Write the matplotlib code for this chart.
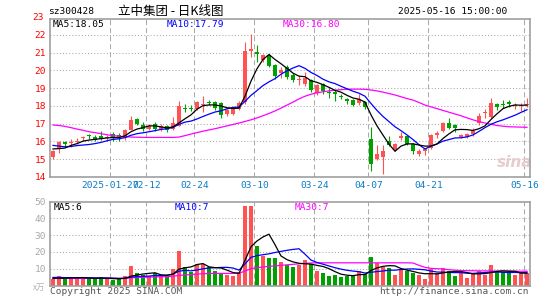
import matplotlib
matplotlib.use("Agg")
import matplotlib.pyplot as plt
import numpy as np

plt.rcParams["font.family"] = ["DejaVu Sans Mono"]

# header texts
code = "sz300428"
title = "立中集团 - 日K线图"
stamp = "2025-05-16 15:00:00"

# date labels on the x axis (candle index, label)
tick_pos = [10, 16, 24, 34, 44, 53, 63, 79]
tick_labels = ["2025-01-27", "02-12", "02-24", "03-10", "03-24", "04-07", "04-21", "05-16"]

# daily OHLC, 2025-01-13 .. 2025-05-16 (80 sessions)
open_ = [15.10, 15.60, 15.97, 15.90, 15.95, 16.20, 16.33, 16.27, 16.30, 16.22,
         16.40, 16.38, 16.18, 16.65, 17.25, 16.92, 16.68, 17.00, 16.68, 16.85,
         16.70, 16.90, 17.90, 17.88, 17.85, 18.05, 18.22, 18.22, 18.15, 17.55,
         17.56, 17.82, 18.20, 21.08, 21.02, 20.60, 20.88, 20.30, 19.85, 20.20,
         19.75, 19.45, 19.22, 19.45, 18.72, 19.22, 18.78, 18.78, 18.55, 18.38,
         18.32, 18.15, 18.20, 16.15, 15.00, 15.15, 16.05, 15.52, 16.17, 16.32,
         15.86, 15.30, 15.45, 15.65, 16.38, 16.60, 17.05, 16.95, 16.25, 16.25,
         16.42, 17.02, 17.58, 17.40, 18.12, 18.08, 18.20, 18.02, 18.03, 18.05]
high = [15.50, 16.02, 16.00, 16.12, 16.20, 16.30, 16.45, 16.37, 16.60, 16.35,
        16.55, 16.48, 16.70, 17.45, 17.30, 17.10, 17.00, 17.10, 17.00, 16.95,
        17.40, 18.30, 18.12, 18.05, 18.30, 18.55, 18.35, 18.30, 18.20, 17.82,
        17.95, 18.30, 21.60, 22.05, 21.45, 20.95, 20.95, 20.35, 20.20, 20.32,
        19.85, 19.70, 19.92, 19.50, 19.25, 19.30, 19.00, 18.90, 18.70, 18.45,
        18.40, 18.70, 18.30, 16.82, 15.80, 15.80, 16.30, 15.90, 16.55, 16.35,
        15.90, 15.55, 15.65, 16.40, 16.60, 17.10, 17.35, 17.00, 16.45, 16.48,
        16.75, 17.60, 17.85, 18.45, 18.15, 18.32, 18.35, 18.15, 18.17, 18.45]
low = [15.00, 15.38, 15.67, 15.71, 15.85, 16.05, 16.12, 16.00, 16.10, 16.05,
       16.05, 16.00, 16.10, 16.62, 16.92, 16.60, 16.65, 16.60, 16.60, 16.55,
       16.62, 16.85, 17.65, 17.70, 17.80, 17.65, 18.05, 17.75, 17.35, 17.45,
       17.50, 17.75, 18.10, 20.75, 20.50, 20.50, 20.20, 19.50, 19.55, 19.50,
       19.35, 19.20, 19.15, 18.80, 18.60, 18.70, 18.45, 18.28, 18.40, 18.10,
       18.00, 18.05, 17.85, 14.33, 14.95, 14.17, 15.75, 15.45, 16.10, 15.80,
       15.28, 15.20, 15.25, 15.60, 16.20, 16.55, 16.70, 16.55, 16.20, 16.20,
       16.30, 16.95, 17.30, 17.35, 17.75, 17.90, 17.95, 17.85, 17.70, 17.95]
close = [15.48, 15.98, 15.88, 15.95, 16.05, 16.23, 16.30, 16.10, 16.15, 16.28,
         16.28, 16.25, 16.65, 17.22, 16.97, 16.72, 16.90, 16.68, 16.85, 16.65,
         17.02, 18.00, 17.85, 17.82, 18.24, 18.12, 18.18, 17.90, 17.50, 17.75,
         17.88, 18.15, 21.10, 21.20, 20.95, 20.88, 20.25, 19.70, 20.05, 19.62,
         19.48, 19.50, 19.60, 18.90, 19.20, 18.82, 18.74, 18.68, 18.52, 18.30,
         18.05, 18.38, 17.95, 14.75, 15.27, 15.45, 15.80, 15.86, 16.33, 15.86,
         15.48, 15.46, 15.55, 16.35, 16.46, 17.02, 16.75, 16.78, 16.37, 16.42,
         16.58, 17.45, 17.65, 18.19, 17.93, 18.05, 18.10, 18.06, 18.07, 18.10]

# price moving averages as drawn
ma5 = [15.58, 15.60, 15.63, 15.78, 15.88, 16.02, 16.08, 16.12, 16.16, 16.20,
       16.22, 16.22, 16.32, 16.55, 16.70, 16.78, 16.88, 16.88, 16.82, 16.77,
       16.82, 17.05, 17.28, 17.50, 17.82, 18.02, 18.06, 18.06, 18.00, 17.90,
       17.86, 17.88, 18.55, 19.40, 20.10, 20.62, 20.90, 20.62, 20.38, 20.12,
       19.85, 19.68, 19.65, 19.42, 19.33, 19.20, 19.05, 18.88, 18.78, 18.60,
       18.45, 18.38, 18.22, 17.50, 16.88, 16.36, 15.85, 15.45, 15.74, 15.86,
       15.87, 15.80, 15.74, 15.74, 15.86, 16.17, 16.43, 16.66, 16.68, 16.67,
       16.62, 16.72, 16.88, 17.24, 17.56, 17.85, 17.98, 18.06, 18.04, 18.05]
ma10 = [15.78, 15.74, 15.70, 15.72, 15.77, 15.80, 15.83, 15.88, 15.95, 16.04,
        16.12, 16.15, 16.22, 16.35, 16.44, 16.49, 16.55, 16.61, 16.68, 16.72,
        16.79, 16.97, 17.09, 17.15, 17.27, 17.41, 17.54, 17.66, 17.73, 17.84,
        17.92, 17.94, 18.26, 18.60, 18.87, 19.15, 19.36, 19.54, 19.79, 19.98,
        20.14, 20.27, 20.12, 19.89, 19.72, 19.51, 19.36, 19.26, 19.11, 18.97,
        18.83, 18.72, 18.55, 18.14, 17.75, 17.41, 17.12, 16.83, 16.61, 16.37,
        16.11, 15.82, 15.58, 15.74, 15.86, 16.02, 16.11, 16.20, 16.21, 16.26,
        16.37, 16.57, 16.78, 16.97, 17.11, 17.22, 17.35, 17.48, 17.64, 17.79]
ma30 = [16.93, 16.90, 16.85, 16.78, 16.70, 16.63, 16.55, 16.50, 16.44, 16.38,
        16.33, 16.30, 16.27, 16.25, 16.24, 16.23, 16.23, 16.23, 16.23, 16.23,
        16.23, 16.25, 16.33, 16.42, 16.50, 16.58, 16.65, 16.72, 16.80, 16.88,
        16.96, 17.04, 17.13, 17.22, 17.33, 17.45, 17.58, 17.72, 17.88, 18.05,
        18.22, 18.40, 18.55, 18.66, 18.74, 18.80, 18.85, 18.89, 18.92, 18.94,
        18.95, 18.95, 18.94, 18.90, 18.85, 18.78, 18.70, 18.62, 18.52, 18.42,
        18.33, 18.20, 18.05, 17.95, 17.85, 17.75, 17.65, 17.55, 17.45, 17.33,
        17.22, 17.12, 17.04, 16.97, 16.90, 16.86, 16.83, 16.82, 16.81, 16.80]

# volume (10k lots) and its moving averages
volume = [3.8, 5.6, 4.8, 4.8, 4.2, 4.2, 4.2, 4.2, 5.2, 3.8,
          3.2, 3.6, 5.6, 11.6, 7.2, 6.2, 5.6, 7.2, 5.6, 5.6,
          9.8, 20.5, 11.2, 8.2, 12.7, 12.7, 10.8, 8.8, 7.2, 6.2,
          5.6, 8.2, 47.6, 47.6, 23.5, 17.6, 16.4, 16.4, 14.0, 12.5,
          11.0, 12.2, 15.1, 12.8, 8.8, 7.7, 5.8, 6.2, 5.2, 5.8,
          6.2, 8.8, 6.8, 17.1, 13.4, 11.0, 10.7, 6.2, 9.2, 8.6,
          7.2, 6.2, 3.8, 9.6, 7.6, 10.4, 8.6, 5.6, 9.2, 4.6,
          6.6, 8.8, 6.2, 12.2, 8.2, 8.2, 7.6, 6.2, 7.2, 7.2]
vma5 = [4.3, 4.3, 4.4, 4.5, 4.64, 4.72, 4.44, 4.32, 4.4, 4.32,
        4.12, 4.0, 4.28, 5.56, 6.24, 6.84, 7.24, 7.56, 6.36, 6.04,
        6.76, 9.74, 10.54, 11.06, 12.48, 13.06, 11.12, 10.64, 10.44, 9.14,
        7.72, 7.2, 14.96, 23.04, 26.5, 28.9, 30.54, 24.3, 17.58, 15.38,
        14.06, 13.22, 12.96, 12.72, 11.98, 11.32, 10.04, 8.26, 6.74, 6.14,
        5.84, 6.44, 6.56, 8.94, 10.46, 11.42, 11.8, 11.68, 10.1, 9.14,
        8.38, 7.48, 7.0, 7.08, 6.88, 7.52, 8.0, 8.36, 8.28, 7.68,
        6.92, 6.96, 7.08, 7.68, 8.4, 8.72, 8.48, 8.48, 7.48, 7.28]
vma10 = [4.8, 4.8, 4.7, 4.7, 4.6, 4.6, 4.6, 4.5, 4.5, 4.48,
         4.42, 4.22, 4.3, 4.98, 5.28, 5.48, 5.62, 5.92, 5.96, 6.14,
         6.8, 8.49, 9.05, 8.71, 9.26, 9.91, 10.43, 10.59, 10.75, 10.81,
         10.39, 9.16, 12.8, 16.74, 17.82, 18.31, 18.87, 19.63, 20.31, 20.94,
         21.48, 21.88, 18.63, 15.15, 13.68, 12.69, 11.63, 10.61, 9.73, 9.06,
         8.58, 8.24, 7.41, 7.84, 8.3, 8.63, 9.12, 9.12, 9.52, 9.8,
         9.9, 9.64, 9.34, 8.59, 8.01, 7.95, 7.74, 7.68, 7.68, 7.28,
         7.22, 7.48, 7.72, 7.98, 8.04, 7.82, 7.72, 7.78, 7.58, 7.84]
vma30 = [4.2, 4.2, 4.2, 4.2, 4.2, 4.2, 4.2, 4.2, 4.2, 4.2,
         4.2, 4.2, 4.3, 4.6, 4.8, 4.9, 5.0, 5.1, 5.2, 5.3,
         5.5, 6.0, 6.3, 6.5, 6.8, 7.0, 7.1, 7.2, 7.2, 7.2,
         7.2, 7.3, 8.6, 10.0, 10.6, 11.0, 11.4, 11.7, 12.0, 12.3,
         12.6, 12.9, 13.2, 13.4, 13.5, 13.5, 13.5, 13.5, 13.5, 13.5,
         13.5, 13.5, 13.5, 13.5, 13.5, 13.5, 13.5, 13.5, 13.5, 13.5,
         13.4, 12.0, 10.8, 10.2, 10.0, 9.8, 9.4, 9.1, 8.9, 8.8,
         8.8, 8.7, 8.7, 8.7, 8.6, 8.6, 8.6, 8.5, 8.5, 8.5]

UP, DOWN = "#ff5252", "#00a000"
GRID = "#aaaaaa"
DATE_BLUE = "#0a7cc6"
FS = 6.8

W, H = 545, 300
fig = plt.figure(figsize=(W / 100, H / 100), dpi=100)


def box(left, top, right, bottom):
    """Pixel box -> figure fraction rect."""
    return [left / W, 1 - bottom / H, (right - left) / W, (bottom - top) / H]


ax = fig.add_axes(box(50, 19, 530, 177))
axv = fig.add_axes(box(50, 201.5, 530, 285.5))

x = np.arange(len(close))
o = np.array(open_)
c = np.array(close)
up = c >= o
colors = np.where(up, UP, DOWN)
grid_x = np.array(tick_pos) - 0.42

for a in (ax, axv):
    a.set_xlim(-0.5, len(close) - 0.5)
    for s in a.spines.values():
        s.set_color("#a0a0a0")
        s.set_linewidth(1.2)
    for gx in grid_x:
        a.axvline(gx, color=GRID, lw=0.75, ls=(0, (4.8, 2.9)), zorder=0)

# --- price panel ---
ax.set_ylim(14, 22.9)
for lvl in range(15, 23):
    ax.axhline(lvl, color=GRID, lw=0.75, ls=(0, (1, 2)), zorder=0)

ax.vlines(x, low, high, colors=colors, lw=0.8, zorder=2)
body_lo = np.minimum(o, c)
body_h = np.maximum(np.abs(c - o), 0.04)
ax.bar(x, body_h, bottom=body_lo, width=0.76, color=colors, lw=0, zorder=3)

ax.plot(x, ma30, color="#ff00ff", lw=0.9, zorder=4)
ax.plot(x, ma10, color="#0000ff", lw=0.9, zorder=4)
ax.plot(x, ma5, color="black", lw=0.9, zorder=5)

ax.set_yticks(range(14, 23))
ax.set_yticklabels([str(v) for v in range(14, 23)])
ax.tick_params(axis="y", length=0, pad=3, labelsize=FS, labelcolor="red")
ax.set_xticks(grid_x)
ax.set_xticklabels(tick_labels)
ax.tick_params(axis="x", length=0, pad=3, labelsize=FS, labelcolor=DATE_BLUE)
ax.text(-0.012, 23, "23", transform=ax.get_yaxis_transform(), ha="right",
        va="center", color="red", fontsize=FS, clip_on=False)

ax.text(0.006, 0.965, f"MA5:{ma5[-1]:.2f}", transform=ax.transAxes,
        fontsize=FS, color="black", va="center")
ax.text(0.242, 0.965, f"MA10:{ma10[-1]:.2f}", transform=ax.transAxes,
        fontsize=FS, color="#0000ff", va="center")
ax.text(0.484, 0.965, f"MA30:{ma30[-1]:.2f}", transform=ax.transAxes,
        fontsize=FS, color="#ff00ff", va="center")
ax.text(77.0, 14.8, "sina", fontsize=11, style="italic", weight="bold",
        family="DejaVu Sans", color="#e6cccc", ha="center", va="center",
        zorder=1)

# --- volume panel ---
axv.set_ylim(0, 50)
for lvl in (10, 20, 30, 40):
    axv.axhline(lvl, color=GRID, lw=0.75, ls=(0, (1, 2)), zorder=0)
axv.bar(x, volume, width=0.8, color=colors, lw=0, zorder=2)
axv.plot(x, vma30, color="#ff00ff", lw=0.9, zorder=3)
axv.plot(x, vma10, color="#0000ff", lw=0.9, zorder=3)
axv.plot(x, vma5, color="black", lw=0.9, zorder=4)
axv.set_xticks([])
axv.set_yticks([10, 20, 30, 40, 50])
axv.tick_params(axis="y", length=0, pad=3, labelsize=FS, labelcolor="#a8a8a8")
axv.text(0.008, 0.93, "MA5:6", transform=axv.transAxes, fontsize=FS,
         color="black", va="center")
axv.text(0.26, 0.93, "MA10:7", transform=axv.transAxes, fontsize=FS,
         color="#0000ff", va="center")
axv.text(0.51, 0.93, "MA30:7", transform=axv.transAxes, fontsize=FS,
         color="#ff00ff", va="center")

# --- header and footer ---
fig.text(48 / W, 1 - 11 / H, code, fontsize=FS, va="center", ha="left")
fig.text(171 / W, 1 - 11 / H, title, fontsize=9, va="center", ha="center",
         family=["Noto Sans CJK SC", "DejaVu Sans"])
fig.text(507 / W, 1 - 11 / H, stamp, fontsize=FS, va="center", ha="right")
fig.text(45 / W, 1 - 287 / H, "x万", fontsize=6, va="center", ha="right",
         color="#b0b0b0", style="italic",
         family=["Noto Sans CJK SC", "DejaVu Sans"])
fig.text(50 / W, 1 - 292 / H, "Copyright 2025 SINA.COM", fontsize=FS,
         va="center", ha="left", color="#555555")
fig.text(529 / W, 1 - 292 / H, "http://finance.sina.com.cn", fontsize=FS,
         va="center", ha="right", color="#555555")

fig.savefig("out.png", dpi=100)
